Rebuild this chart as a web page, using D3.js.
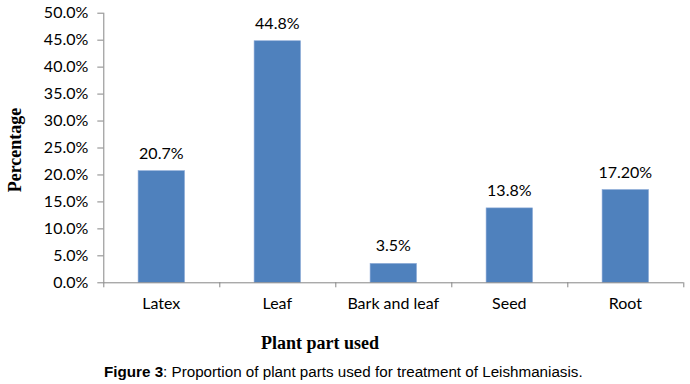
<!DOCTYPE html>
<html>
<head>
<meta charset="utf-8">
<script src="https://cdn.jsdelivr.net/npm/d3@7"></script>
<style>
  body { margin: 0; background: #fff; }
  svg { display: block; }
</style>
</head>
<body>
<div id="chart"></div>
<script>
// chart values
var categories = ["Latex", "Leaf", "Bark and leaf", "Seed", "Root"]
var values = [20.7, 44.8, 3.5, 13.8, 17.2]
var valueLabels = ["20.7%", "44.8%", "3.5%", "13.8%", "17.20%"]
var yTicks = [0, 5, 10, 15, 20, 25, 30, 35, 40, 45, 50]

var W = 690, H = 384
var margin = {top: 12.7, right: 6.7, bottom: 101.7, left: 103.3},
    width = W - margin.left - margin.right,
    height = H - margin.top - margin.bottom;

var formatTick = function(d) { return d3.format(".1f")(d) + "%" }
var labelFont = "Lato, 'Open Sans', sans-serif"

var svg = d3.select("#chart").append("svg")
    .attr("width", W)
    .attr("height", H)

var g = svg.append("g")
    .attr("transform", "translate(" + margin.left + "," + margin.top + ")")

var x = d3.scaleBand()
    .domain(categories)
    .range([0, width])
    .paddingInner(0)
    .paddingOuter(0)

var y = d3.scaleLinear()
    .domain([0, 50])
    .range([height, 0])

var barW = x.bandwidth() * 0.4

/* y axis */
var yAxis = d3.axisLeft(y)
    .tickValues(yTicks)
    .tickFormat(formatTick)
    .tickSize(6)
    .tickPadding(9)

var gy = g.append("g").attr("class", "y axis").call(yAxis)
gy.select(".domain").attr("stroke", "#868686").attr("d", "M0.5," + height + "V0")
gy.selectAll(".tick line").attr("stroke", "#868686")
gy.selectAll(".tick text")
    .attr("fill", "#000")
    .style("font-family", labelFont)
    .style("font-size", "16px")

/* bars */
g.selectAll(".bar")
    .data(values)
    .enter().append("rect")
    .attr("class", "bar")
    .attr("x", function(d, i) { return x(categories[i]) + (x.bandwidth() - barW) / 2 })
    .attr("y", function(d) { return y(d) })
    .attr("width", barW)
    .attr("height", function(d) { return height - y(d) })
    .attr("fill", "#4F81BD")
    .attr("stroke", "#8AA9D6")
    .attr("stroke-width", 0.6)

/* value labels */
g.selectAll(".vlabel")
    .data(values)
    .enter().append("text")
    .attr("class", "vlabel")
    .attr("x", function(d, i) { return x(categories[i]) + x.bandwidth() / 2 })
    .attr("y", function(d) { return y(d) - 12 })
    .attr("text-anchor", "middle")
    .style("font-family", labelFont)
    .style("font-size", "16px")
    .text(function(d, i) { return valueLabels[i] })

/* x axis */
var xAxis = d3.axisBottom(x).tickSize(0).tickPadding(15)
var gx = g.append("g")
    .attr("class", "x axis")
    .attr("transform", "translate(0," + height + ")")
    .call(xAxis)
gx.select(".domain").attr("stroke", "#868686").attr("d", "M0," + 0.5 + "H" + width)
gx.selectAll(".tick text")
    .attr("fill", "#000")
    .style("font-family", labelFont)
    .style("font-size", "16px")

// boundary ticks between categories
gx.selectAll(".sep")
    .data(d3.range(categories.length + 1))
    .enter().append("line")
    .attr("class", "sep")
    .attr("x1", function(i) { return i * x.step() + 0.5 })
    .attr("x2", function(i) { return i * x.step() + 0.5 })
    .attr("y1", 0)
    .attr("y2", 5)
    .attr("stroke", "#868686")

/* axis titles */
svg.append("text")
    .attr("transform", "translate(21,150) rotate(-90)")
    .attr("text-anchor", "middle")
    .style("font-family", "'Liberation Serif', 'Times New Roman', serif")
    .style("font-weight", "bold")
    .style("font-size", "18px")
    .text("Percentage")

svg.append("text")
    .attr("x", 320)
    .attr("y", 349)
    .attr("text-anchor", "middle")
    .style("font-family", "'Liberation Serif', 'Times New Roman', serif")
    .style("font-weight", "bold")
    .style("font-size", "18px")
    .text("Plant part used")

/* caption */
var cap = svg.append("text")
    .attr("x", 104)
    .attr("y", 377)
    .style("font-family", "'Liberation Sans', Arial, sans-serif")
    .style("font-size", "15.2px")
cap.append("tspan").style("font-weight", "bold").text("Figure 3")
cap.append("tspan").text(": Proportion of plant parts used for treatment of Leishmaniasis.")
</script>
</body>
</html>
